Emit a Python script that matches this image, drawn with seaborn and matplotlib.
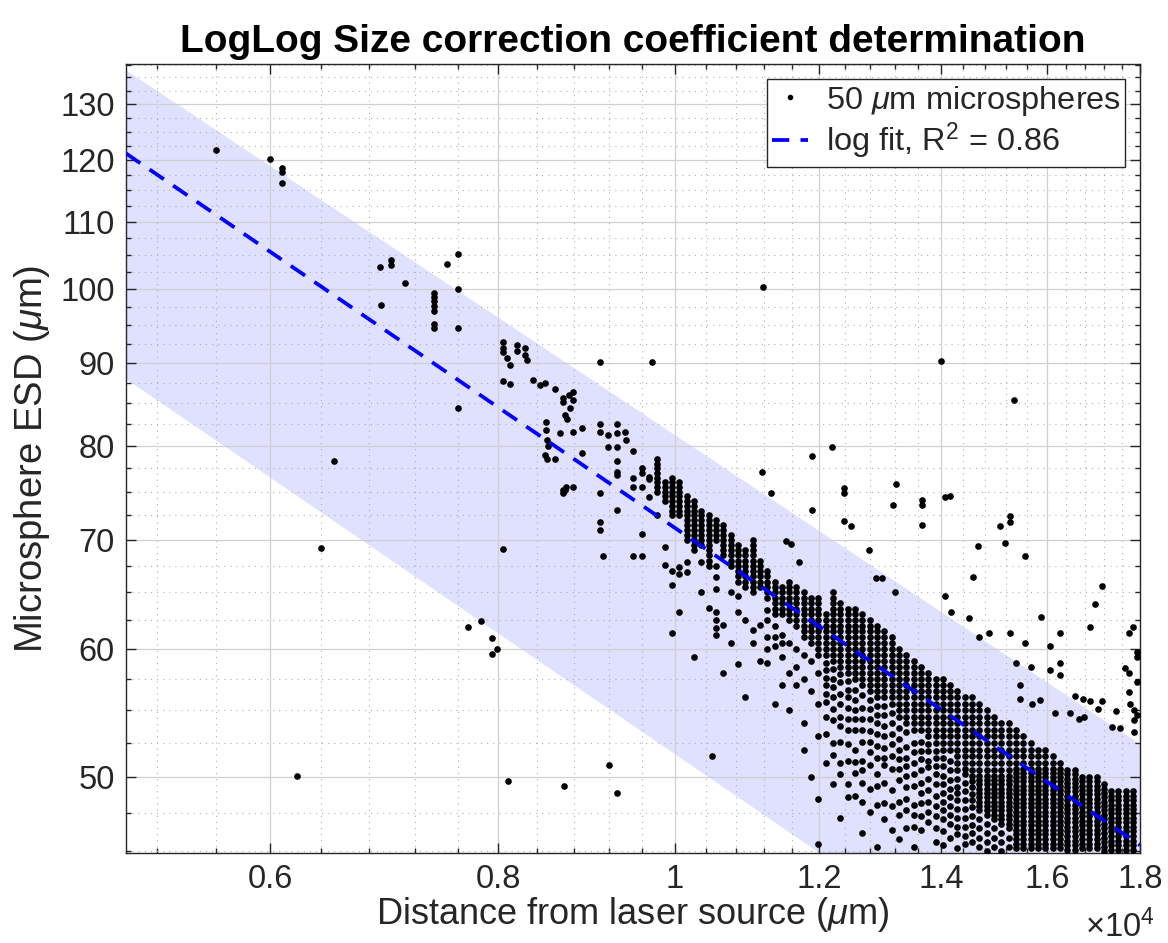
import matplotlib
matplotlib.use('Agg')
import matplotlib.pyplot as plt
from matplotlib.ticker import FixedLocator, FixedFormatter, NullFormatter
from matplotlib.lines import Line2D
import seaborn as sns
import pandas as pd

# columns of the dense band (x position, y values read per column)
col_x = [9784, 9875, 9967, 10059, 10153, 10247, 10342, 10438, 10535, 10633,
         10731, 10831, 10932, 11033, 11136, 11239, 11343, 11449, 11555, 11662,
         11771, 11880, 11990, 12102, 12214, 12328, 12442, 12558, 12674, 12792,
         12911, 13031, 13151, 13274, 13397, 13521, 13647, 13773, 13901, 14030,
         14161, 14292, 14425, 14559, 14694, 14830, 14968, 15107, 15247, 15389,
         15532, 15676, 15821, 15968, 16117, 16266, 16417, 16570, 16723, 16879,
         17036, 17194, 17354, 17515, 17677, 17841]
col_y = [
    [78.5, 78, 77.5, 77, 76.5, 76, 75.5, 75, 72.5],
    [76, 75.5, 75, 74.5, 74, 69.3, 67.6],
    [76.5, 76, 75.5, 75, 74.5, 74, 73.5, 73, 72.5, 67, 65.7, 61.4],
    [76, 75.5, 75, 74.5, 74, 73.5, 73, 72.5, 67.4, 66.7, 63.2],
    [74.5, 74, 73.5, 73, 72.5, 72, 71.5, 71, 70.5, 70, 67.9, 66.9],
    [74, 73.5, 73, 72.5, 72, 71.5, 71, 70.5, 70, 69.5, 69, 59.3],
    [73, 72.5, 72, 71.5, 71, 70.5, 70, 69.5, 67.9, 65],
    [72.5, 72, 71.5, 71, 70.5, 70, 69.5, 69, 68.5, 68, 67.5, 63.6],
    [72, 71.5, 71, 70.5, 70, 67.5, 66.4, 65.3, 63.2, 62.5, 61.8, 61.2],
    [71.5, 71, 70.5, 70, 69.5, 69, 68.5, 62.1, 58],
    [70.5, 70, 69.5, 69, 68.5, 68, 67.5, 65, 60.5],
    [69.5, 69, 68.5, 68, 67.5, 67, 66.5, 66, 64.7, 63.2, 58.7],
    [69, 68.5, 68, 67.5, 67, 66.5, 66, 65.5, 62.5, 56],
    [70, 69.5, 69, 68.5, 68, 67.5, 67, 66.5, 66, 65.5, 65, 61.6, 60.5],
    [68, 67.5, 67, 66.5, 66, 65.5, 62.1, 59],
    [67, 66.5, 66, 65.5, 65, 64.5, 63.4, 62.5, 61, 60, 58.8],
    [66, 65.5, 65, 64.5, 64, 63.5, 63, 62, 61, 60.2, 55.5],
    [65.5, 65, 64.5, 64, 63.5, 63, 61.2, 60.5, 59.3, 57],
    [66, 65.5, 65, 64.5, 64, 63.5, 63, 62.5, 60.5, 58, 55],
    [65.5, 65, 64.5, 64, 63.5, 63, 62.5, 62, 60, 58.5, 57],
    [65, 64.5, 64, 63.5, 63, 62.5, 62, 61.5, 61, 59.5, 57.5, 54, 52],
    [64.5, 64, 63.5, 63, 62.5, 62, 61.5, 61, 60.5, 59, 56.5, 50],
    [64.5, 64, 63.5, 63, 62.5, 62, 61.5, 61, 60.5, 60, 59.5, 58, 55.5, 53, 48.5, 45.5],
    [63, 62.5, 62, 61.5, 61, 60.5, 60, 59.5, 58.2, 57, 54.5, 51,
     58.8, 57.6, 56.3, 55.6, 53.2],
    [65, 64.5, 64, 63.5, 63, 62.5, 62, 61.5, 61, 60.5, 60, 59.5, 59, 57.5, 56, 52.5, 49.5,
     58.3, 56.8, 55.1, 54.2, 51.6],
    [64, 63.5, 63, 62.5, 62, 61.5, 61, 60.5, 60, 59.5, 59, 58.5, 57.2, 54.5, 53.8, 51, 47.2,
     57.9, 56.3, 55.5, 52.6, 50.2],
    [63.5, 63, 62.5, 62, 61.5, 61, 60.5, 60, 59.5, 59, 58.5, 58, 56, 55.2, 52.4, 49.5, 48.6,
     57.3, 56.6, 54.3, 53.5, 51.2],
    [63.5, 63, 62.5, 62, 61.5, 61, 60.5, 60, 59.5, 59, 58.5, 58, 57.5, 56.6, 53.5, 52, 48.7,
     55.8, 55, 54.3, 51.1, 50.3],
    [63, 62.5, 62, 61.5, 61, 60.5, 60, 59.5, 59, 58.5, 58, 57.5, 57, 55.2, 54.3, 51.2, 50.5, 46.2,
     56.2, 53.5, 52.6, 49.6, 48.3],
    [62.5, 62, 61.5, 61, 60.5, 60, 59.5, 59, 58.5, 58, 57.5, 57, 56.5, 55.8, 52.6, 51.8, 47.6,
     55.1, 54.3, 53.4, 50.9, 49.2],
    [62, 61.5, 61, 60.5, 60, 59.5, 59, 58.5, 58, 57.5, 57, 56.5, 56, 54, 53.2, 50.2, 49.4, 45.3,
     55.3, 54.6, 52.3, 51.4, 48.1],
    [61.5, 61, 60.5, 60, 59.5, 59, 58.5, 58, 57.5, 57, 56.5, 56, 54.6, 52.1, 50.9, 48.2, 47.1,
     55.3, 53.8, 53, 51.4, 49.6],
    [61, 60.5, 60, 59.5, 59, 58.5, 58, 57.5, 57, 56.5, 56, 55.5, 53.2, 52.4, 49.1, 46.4,
     54.8, 54, 51.5, 50.6, 48],
    [60, 59.5, 59, 58.5, 58, 57.5, 57, 56.5, 56, 55.5, 55, 54.5, 53.6, 50.6, 49.8, 48.3, 45.8,
     52.8, 52, 51.3, 47.4],
    [59.5, 59, 58.5, 58, 57.5, 57, 56.5, 56, 55.5, 55, 54.5, 54, 52.2, 51.4, 50.1, 47.7, 46.5,
     53.3, 50.8, 49.3, 48.5],
    [59, 58.5, 58, 57.5, 57, 56.5, 56, 55.5, 55, 54.5, 54, 53.5, 52.5, 50.2, 49.4, 48.1, 45.3,
     51.8, 51, 47.4, 46.6],
    [58.5, 58, 57.5, 57, 56.5, 56, 55.5, 55, 54.5, 54, 53.5, 52.6, 51.3, 49.6, 48.2, 46.4,
     51.9, 50.5, 48.9, 47.3],
    [58, 57.5, 57, 56.5, 56, 55.5, 55, 54.5, 54, 53.5, 53, 51.9, 50.7, 49.1, 47.6, 46.9,
     52.4, 51.2, 49.9, 48.3],
    [57.5, 57, 56.5, 56, 55.5, 55, 54.5, 54, 53.5, 53, 52.5, 51.4, 50.2, 48.7, 47.3, 45.6,
     51.9, 50.8, 49.5, 48, 46.5],
    [57.5, 57, 56.5, 56, 55.5, 55, 54.5, 54, 53.5, 53, 52.5, 52, 50.8, 49.5, 48.3, 47.1, 45.4,
     51.4, 50.1, 48.9, 47.7, 46.3],
    [57, 56.5, 56, 55.5, 55, 54.5, 54, 53.5, 53, 52.5, 52, 51.2, 49.8, 48.6, 46.8, 45.9,
     50.5, 49.2, 48, 47.4],
    [56.5, 56, 55.5, 55, 54.5, 54, 53.5, 53, 52.5, 52, 51.5, 50.5, 49.3, 48.4, 47.2, 46.1, 45.2,
     51, 49.9, 48.9, 47.8, 46.6],
    [56, 55.5, 55, 54.5, 54, 53.5, 53, 52.5, 52, 51.5, 51, 50.2, 49, 47.8, 46.6, 45.5,
     50.6, 49.6, 48.4, 47.2, 46],
    [56, 55.5, 55, 54.5, 54, 53.5, 53, 52.5, 52, 51.5, 51, 50.5, 49.7, 48.8, 47.9, 46.7, 45.6,
     50.1, 49.3, 48.4, 47.3, 46.2],
    [55.5, 55, 54.5, 54, 53.5, 53, 52.5, 52, 51.5, 51, 50.5, 50.1, 49.8, 49.5, 49.2, 48.9,
     48.6, 48.3, 48, 47.7, 47.1, 46.5, 45.9, 45.3],
    [55, 54.5, 54, 53.5, 53, 52.5, 52, 51.5, 51, 50.5, 50.1, 49.8, 49.5, 49.2, 48.9, 48.6,
     48.3, 48, 47.7, 47.4, 46.8, 46.2, 45.6, 45],
    [54.5, 54, 53.5, 53, 52.5, 52, 51.5, 51, 50.5, 50.1, 49.8, 49.5, 49.2, 48.9, 48.6, 48.3,
     48, 47.7, 47.4, 47.1, 46.5, 45.9, 45.3],
    [54, 53.5, 53, 52.5, 52, 51.5, 51, 50.5, 50.1, 49.8, 49.5, 49.2, 48.9, 48.6, 48.3, 48,
     47.7, 47.4, 47.1, 46.8, 46.2, 45.6, 45],
    [54, 53.5, 53, 52.5, 52, 51.5, 51, 50.5, 50.1, 49.8, 49.5, 49.2, 48.9, 48.6, 48.3, 48,
     47.7, 47.4, 47.1, 46.8, 46.5, 45.9, 45.3],
    [53.5, 53, 52.5, 52, 51.5, 51, 50.6, 50.3, 50, 49.7, 49.4, 49.1, 48.8, 48.5, 48.2, 47.9,
     47.6, 47.3, 47, 46.7, 46.4, 46.1, 45.8, 45.5, 45.2],
    [53, 52.5, 52, 51.5, 51, 50.6, 50.3, 50, 49.7, 49.4, 49.1, 48.8, 48.5, 48.2, 47.9, 47.6,
     47.3, 47, 46.7, 46.4, 46.1, 45.8, 45.5, 45.2],
    [52.5, 52, 51.5, 51, 50.6, 50.3, 50, 49.7, 49.4, 49.1, 48.8, 48.5, 48.2, 47.9, 47.6,
     47.3, 47, 46.7, 46.4, 46.1, 45.8, 45.5, 45.2],
    [52, 51.5, 51, 50.6, 50.3, 50, 49.7, 49.4, 49.1, 48.8, 48.5, 48.2, 47.9, 47.6, 47.3, 47,
     46.7, 46.4, 46.1, 45.8, 45.5, 45.2],
    [52, 51.5, 51, 50.6, 50.3, 50, 49.7, 49.4, 49.1, 48.8, 48.5, 48.2, 47.9, 47.6, 47.3, 47,
     46.7, 46.4, 46.1, 45.8, 45.5, 45.2],
    [51.5, 51, 50.6, 50.3, 50, 49.7, 49.4, 49.1, 48.8, 48.5, 48.2, 47.9, 47.6, 47.3, 47,
     46.7, 46.4, 46.1, 45.8, 45.5, 45.2],
    [51, 50.6, 50.3, 50, 49.7, 49.4, 49.1, 48.8, 48.5, 48.2, 47.9, 47.6, 47.3, 47, 46.7,
     46.4, 46.1, 45.8, 45.5, 45.2],
    [50.5, 50.2, 49.9, 49.6, 49.3, 49, 48.7, 48.4, 48.1, 47.8, 47.5, 47.2, 46.9, 46.6, 46.3,
     46, 45.7, 45.4, 45.1],
    [50.5, 50.2, 49.9, 49.6, 49.3, 49, 48.7, 48.4, 48.1, 47.8, 47.5, 47.2, 46.9, 46.6, 46.3,
     46, 45.7, 45.4, 45.1],
    [50, 49.7, 49.4, 49.1, 48.8, 48.5, 48.2, 47.9, 47.6, 47.3, 47, 46.7, 46.4, 46.1, 45.8,
     45.5, 45.2],
    [50, 49.7, 49.4, 49.1, 48.8, 48.5, 48.2, 47.9, 47.6, 47.3, 47, 46.7, 46.4, 46.1, 45.8,
     45.5, 45.2],
    [50, 49.7, 49.4, 49.1, 48.8, 48.5, 48.2, 47.9, 47.6, 47.3, 47, 46.7, 46.4, 46.1, 45.8,
     45.5, 45.2],
    [49.5, 49.2, 48.9, 48.6, 48.3, 48, 47.7, 47.4, 47.1, 46.8, 46.5, 46.2, 45.9, 45.6, 45.3, 45],
    [49, 48.7, 48.4, 48.1, 47.8, 47.5, 47.2, 46.9, 46.6, 46.3, 46, 45.7, 45.4, 45.1],
    [49, 48.7, 48.4, 48.1, 47.8, 47.5, 47.2, 46.9, 46.6, 46.3, 46, 45.7, 45.4, 45.1],
    [49, 48.7, 48.4, 48.1, 47.8, 47.5, 47.2, 46.9, 46.6, 46.3, 46, 45.7, 45.4, 45.1],
    [49, 48.7, 48.4, 48.1, 47.8, 47.5, 47.2, 46.9, 46.6, 46.3, 46, 45.7, 45.4, 45.1],
]

# scattered points outside the dense band
sparse_x = [5600, 6000, 6091, 6091, 6091, 6204, 6400, 6500,
            6888, 6992, 6992, 6897, 7108,
            7381, 7381, 7381, 7381, 7381, 7381, 7381,
            7503, 7607, 7607, 7607, 7607,
            7704, 7826, 7937, 7937, 7992,
            8051, 8051, 8051, 8090, 8122, 8193, 8193, 8277, 8277, 8300, 8051, 8122,
            8045, 8098, 8696,
            8360, 8434, 8487, 8500, 8500, 8512, 8525, 8487, 8512, 8649, 8751, 8764, 8727, 8703, 8715,
            8595, 8681, 8681, 8791, 8791, 8703, 8791, 8891, 8595, 8681, 8681, 8791, 8891,
            9095, 9722, 9095, 9095, 9187, 9292, 9292, 9386, 9405, 9187, 9292, 9292, 9292, 9292,
            9292, 9095, 9095, 9492, 9130, 9095,
            9200, 9292, 10485,
            9589, 9589, 9589, 9589, 9589, 9492, 9492, 9492, 9685, 9685, 9685,
            11179, 14000, 15353, 11890, 12193, 11165, 11292, 11890, 12379, 12379, 12379, 12488,
            12774, 12887, 12985, 13215, 13182, 13232, 11507, 11580, 11697,
            13671, 13671, 13671, 14073, 14160, 15080, 15282, 15282, 15180, 14669, 14570, 15562,
            17146, 14073, 14180, 14498, 15878, 17013, 16906, 16261, 16061, 15562, 15282, 14867,
            14684, 17760, 17850, 17670, 17760, 15380, 15680, 16061, 16261, 16261, 16572, 16740,
            16906, 17059, 17146, 17450, 17550, 17370, 17740, 17780, 17870, 17870, 17870, 15460,
            15460, 15700, 15860, 16160, 16470, 16670, 16760, 17920, 17920, 17920, 17920]
sparse_y = [121.8, 120.3, 118.8, 118.0, 116.3, 50.1, 69.2, 78.3,
            103.2, 104.2, 103.4, 97.8, 100.9,
            99.4, 98.9, 98.3, 97.6, 96.9, 95.2, 94.6,
            103.6, 105.1, 100.0, 94.6, 84.5,
            61.9, 62.4, 60.9, 59.6, 60.0,
            92.8, 92.0, 91.4, 90.7, 89.7, 92.4, 91.5, 92.0, 91.1, 90.4, 87.8, 87.4,
            69.1, 49.7, 49.4,
            87.9, 87.2, 87.5, 82.8, 81.8, 80.7, 80.0, 79.0, 78.5, 81.5, 86.0, 84.4, 83.1, 75.2, 75.5,
            86.7, 85.7, 85.2, 86.4, 85.4, 83.6, 81.6, 82.1, 78.5, 75.2, 74.9, 75.5, 79.2,
            90.1, 90.1, 82.5, 81.6, 81.3, 82.5, 81.5, 81.6, 80.7, 79.9, 79.9, 78.3, 77.1, 76.8,
            73.1, 74.9, 71.8, 79.4, 68.4, 71.0,
            50.9, 48.9, 51.5,
            77.6, 77.0, 75.5, 70.6, 68.4, 76.5, 75.5, 68.4, 76.6, 76.3, 74.4,
            100.3, 90.3, 85.4, 78.9, 79.9, 77.1, 74.9, 73.1, 75.4, 74.9, 71.9, 71.4,
            69.0, 66.3, 66.3, 65.0, 73.6, 75.8, 69.9, 69.6, 67.9,
            74.1, 73.6, 71.5, 74.4, 74.5, 71.4, 72.4, 71.8, 69.7, 69.4, 66.4, 68.4,
            65.6, 64.7, 63.2, 62.7, 62.8, 63.9, 61.9, 61.4, 60.2, 60.5, 61.4, 61.4,
            61.0, 61.4, 61.9, 58.4, 58.0, 58.8, 58.5, 58.2, 58.8, 57.8, 56.1, 55.9,
            55.7, 55.1, 55.7, 54.9, 53.6, 53.7, 56.4, 55.5, 55.0, 54.2, 53.3, 57.0,
            55.9, 55.5, 55.8, 54.8, 54.8, 54.3, 54.5, 59.7, 59.3, 57.2, 54.6]

# log fit and band end points
fit_x = [5000, 18000]
fit_y = [121.2, 45.4]
band_x = [5000, 18000]
band_lo = [88.0, 32.9]
band_hi = [136.4, 52.4]

xticks = [6000, 8000, 10000, 12000, 14000, 16000, 18000]
xtick_labels = ['0.6', '0.8', '1', '1.2', '1.4', '1.6', '1.8']
yticks = [50, 60, 70, 80, 90, 100, 110, 120, 130]

xs = [x for x, ys in zip(col_x, col_y) for _ in ys] + sparse_x
ys = [y for ys_ in col_y for y in ys_] + sparse_y
df = pd.DataFrame({'dist': xs, 'esd': ys})

sns.set_style('ticks')
plt.rcParams['font.family'] = ['Liberation Sans', 'DejaVu Sans']
plt.rcParams['mathtext.fontset'] = 'custom'
plt.rcParams['mathtext.rm'] = 'Liberation Sans'
plt.rcParams['mathtext.it'] = 'Liberation Sans:italic'

dark = '#262626'
fig = plt.figure(figsize=(11.68, 9.43), dpi=100)
ax = fig.add_axes([0.1079, 0.0954, 0.8682, 0.8367])
ax.set_xscale('log')
ax.set_yscale('log')

ax.fill_between(band_x, band_lo, band_hi, color=(0.878, 0.878, 1.0), lw=0, zorder=0.3)
sns.scatterplot(data=df, x='dist', y='esd', ax=ax, color='k', s=23, marker='o',
                linewidth=0, zorder=3, legend=False)
sns.lineplot(x=fit_x, y=fit_y, ax=ax, color='b', lw=2.7, zorder=4)
ax.lines[-1].set_dashes((4.6, 3))

ax.set_xlim(5000, 18000)
ax.set_ylim(44.9, 137.6)

ax.xaxis.set_major_locator(FixedLocator(xticks))
ax.xaxis.set_major_formatter(FixedFormatter(xtick_labels))
ax.xaxis.set_minor_locator(FixedLocator([v for v in range(5200, 18000, 400) if v % 2000]))
ax.xaxis.set_minor_formatter(NullFormatter())
ax.yaxis.set_major_locator(FixedLocator(yticks))
ax.yaxis.set_major_formatter(FixedFormatter([str(v) for v in yticks]))
ax.yaxis.set_minor_locator(FixedLocator([45 + 2.5 * k for k in range(38) if (45 + 2.5 * k) % 10]))
ax.yaxis.set_minor_formatter(NullFormatter())

ax.grid(which='major', color='#d0d0d0', lw=0.9, ls='-')
ax.grid(which='minor', color='#b0b0b0', lw=0.8, ls=(0, (1, 4.5)))
ax.set_axisbelow(True)
ax.tick_params(which='both', direction='in', top=True, right=True, color=dark, width=1,
               labelsize=23.5, labelcolor=dark)
ax.tick_params(which='major', length=7.5, pad=8)
ax.tick_params(which='minor', length=3.5)
for sp in ax.spines.values():
    sp.set_color(dark)
    sp.set_linewidth(1)

ax.set_title('LogLog Size correction coefficient determination', fontsize=28,
             fontweight='bold', pad=9, color='black')
ax.set_xlabel(r'Distance from laser source ($\mu$m)', fontsize=26, color=dark, labelpad=0)
ax.set_ylabel(r'Microsphere ESD ($\mu$m)', fontsize=27.5, color=dark, labelpad=6)
ax.text(1.014, -0.106, '×10$^{4}$', transform=ax.transAxes, ha='right', va='baseline',
        fontsize=23.5, color=dark)

handles = [Line2D([], [], marker='o', ms=3, color='k', ls='none'),
           Line2D([], [], color='b', lw=2.7, dashes=(4.6, 3))]
leg = ax.legend(handles, [r'50 $\mu$m microspheres', r'log fit, R$^2$ = 0.86'],
                loc='upper right', fontsize=23.4, frameon=True, fancybox=False,
                edgecolor=dark, framealpha=1, borderaxespad=0.45, handlelength=1.1,
                handletextpad=0.55, borderpad=0.15, labelspacing=0.1)
leg.get_frame().set_linewidth(1)

fig.savefig('out.png', dpi=100)
